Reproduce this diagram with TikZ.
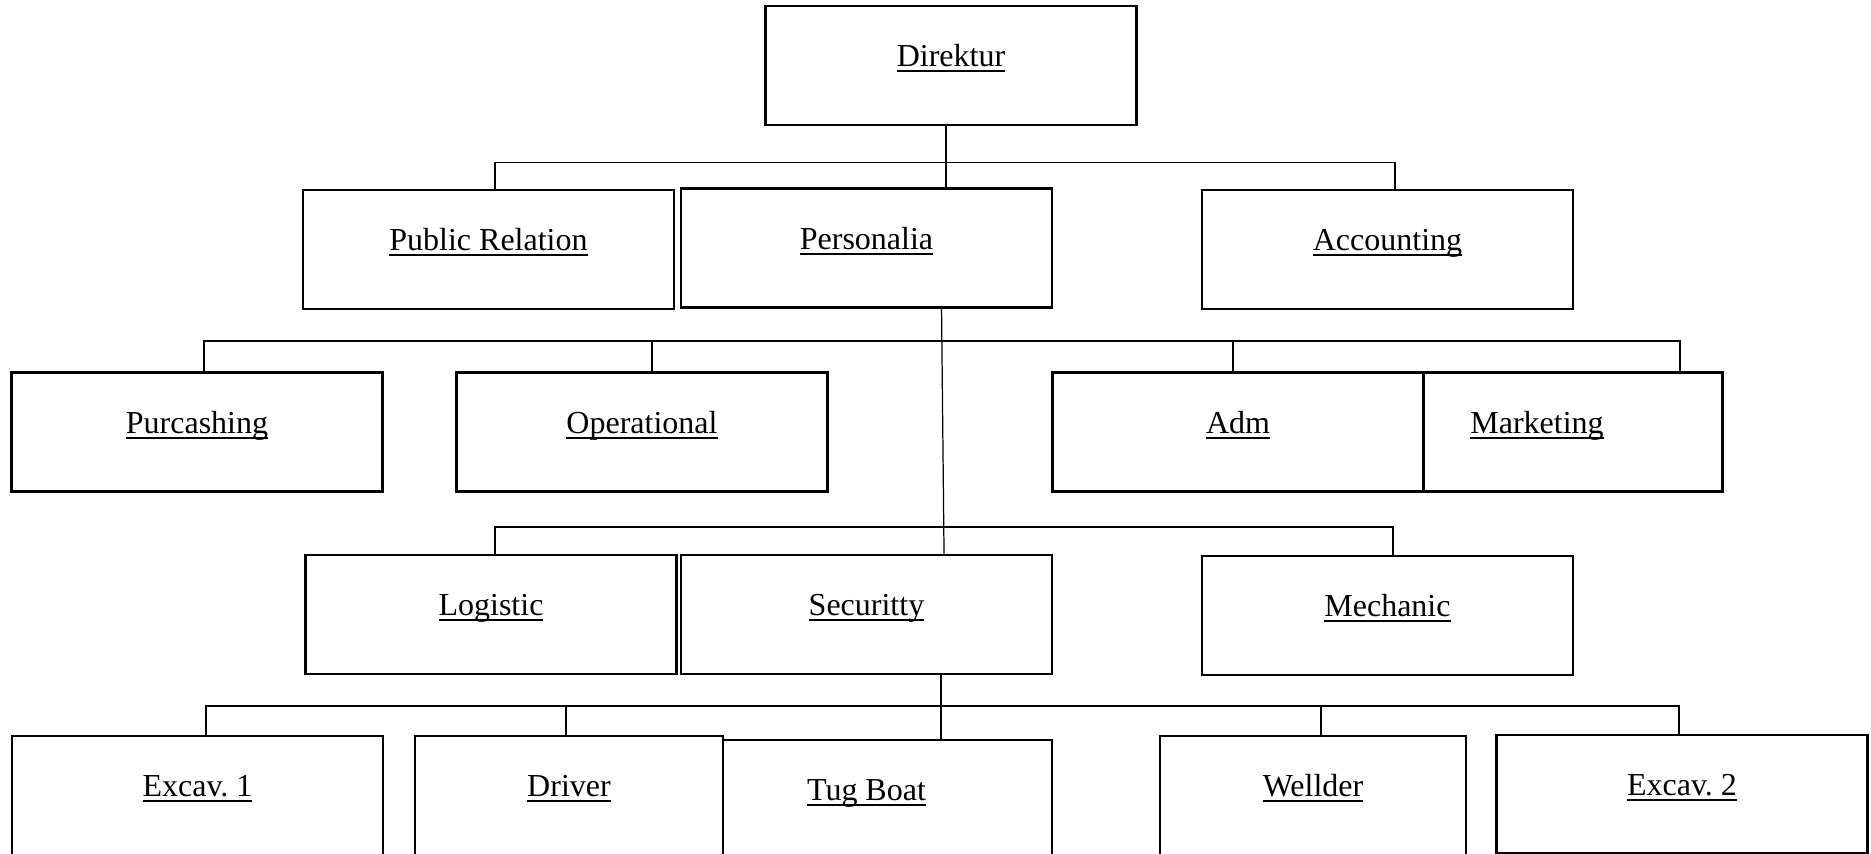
\documentclass[tikz,border=0pt]{standalone}
\usepackage{fontspec}
\setmainfont{Liberation Serif}
\newcommand{\ulword}[1]{\setbox0\hbox{#1}\rlap{\rule[-1.6pt]{\wd0}{0.6pt}}\box0}

\begin{document}
\begin{tikzpicture}[x=0.01cm, y=-0.01cm]
        \tikzstyle{unit}=[draw, fill=white, line width=0.65pt, minimum width=3.71cm, minimum height=1.19cm, text height=0.312cm, text depth=0.288cm, inner sep=0pt, font=\fontsize{9.1}{11}\selectfont];
        \tikzstyle{bus}=[line width=0.35pt];

        \useasboundingbox (0,0) rectangle (1871,854);

        \node[unit] (dir) at (951,65.5) {\ulword{Direktur}};

        \node[unit] (pr) at (488.5,249.5) {\ulword{Public Relation}};
        \node[unit] (pers) at (866.5,248) {\ulword{Personalia}};
        \node[unit] (acc) at (1387.5,249.5) {\ulword{Accounting}};

        \node[unit] (pur) at (197,432) {\ulword{Purcashing}};
        \node[unit] (ops) at (642,432) {\ulword{Operational}};
        \node[unit] (mkt) at (1537,432) {\ulword{Marketing}};
        \node[unit] (adm) at (1238,432) {\ulword{Adm}};

        \node[unit] (log) at (491,614.5) {\ulword{Logistic}};
        \node[unit] (sec) at (866.5,614.5) {\ulword{Securitty}};
        \node[unit] (mech) at (1387.5,615.5) {\ulword{Mechanic}};

        \node[unit] (ex1) at (197.5,795.5) {\ulword{Excav.\ 1}};
        \node[unit] (tug) at (866.5,799.5) {\ulword{Tug Boat}};
        \node[unit, minimum width=3.08cm] (drv) at (569,795.5) {\ulword{Driver}};
        \node[unit, minimum width=3.06cm] (wel) at (1313,795.5) {\ulword{Wellder}};
        \node[unit, minimum height=1.18cm] (ex2) at (1682,794) {\ulword{Excav.\ 2}};

        \coordinate (j0) at (946,162.5);
        \draw[bus] (j0 |- dir.south) -- (j0 |- pers.north);
        \draw[bus] (j0) -| ([xshift=0.065cm]pr.north);
        \draw[bus] (j0) -| ([xshift=0.075cm]acc.north);

        \draw[bus] ([xshift=0.75cm]pers.south) -- ([xshift=0.775cm]sec.north);
        \coordinate (j1) at (942,341);
        \draw[bus] (j1) -| ([xshift=0.07cm]pur.north);
        \draw[bus] (j1) -| ([xshift=0.10cm]ops.north);
        \draw[bus] (j1) -| ([xshift=-0.05cm]adm.north);
        \draw[bus] (j1) -| ([xshift=1.43cm]mkt.north);

        \coordinate (j2) at (943,527);
        \draw[bus] (j2) -| ([xshift=0.04cm]log.north);
        \draw[bus] (j2) -| ([xshift=0.055cm]mech.north);

        \draw[bus] ([xshift=0.745cm]sec.south) -- ([xshift=0.745cm]tug.north);
        \coordinate (j3) at (941,706);
        \draw[bus] (j3) -| ([xshift=0.085cm]ex1.north);
        \draw[bus] (j3) -| ([xshift=-0.03cm]drv.north);
        \draw[bus] (j3) -| ([xshift=0.08cm]wel.north);
        \draw[bus] (j3) -| ([xshift=-0.03cm]ex2.north);
\end{tikzpicture}
\end{document}
